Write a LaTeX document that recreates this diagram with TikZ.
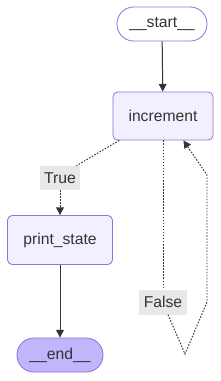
\documentclass[tikz,border=0pt]{standalone}
\usepackage{fontspec}
\setmainfont{Liberation Sans}
\usetikzlibrary{arrows.meta}
\usetikzlibrary{positioning}
\definecolor{nodefill}{HTML}{F2F0FF}
\definecolor{nodeline}{HTML}{9370DB}
\definecolor{endfill}{HTML}{BFB6FC}
\definecolor{edgecol}{HTML}{333333}
\definecolor{lblfill}{HTML}{E8E8E8}

\begin{document}
\begin{tikzpicture}[
  x=0.03cm,y=-0.03cm,
  every node/.style={font=\fontsize{13.4}{16}\selectfont,text=edgecol,inner sep=0pt},
  box/.style={draw=nodeline,fill=nodefill,line width=0.7pt,rounded corners=4pt},
  pill/.style={draw=nodeline,line width=0.7pt,rounded corners=0.5cm,minimum height=1.02cm},
  lbl/.style={fill=lblfill,minimum height=0.72cm},
  flow/.style={draw=edgecol,line width=0.85pt,-{Triangle[length=6.5pt,width=6.5pt]}},
  cond/.style={draw=edgecol,line width=0.85pt,dash pattern=on 1.3pt off 1.3pt}]
\useasboundingbox (0,0) rectangle (221,381);
\node[pill,fill=white,minimum width=2.7cm] (start) at (162,24) {\_\_start\_\_};
\node[box,minimum width=3cm,minimum height=1.44cm] (increment) at (163,116) {increment};
\node[lbl,minimum width=1.17cm] (truelbl) at (60,178) {True};
\node[box,minimum width=3.15cm,minimum height=1.47cm] (print) at (60,240) {print\_state};
\node[pill,fill=endfill,minimum width=2.58cm] (end) at (60,355) {\_\_end\_\_};
\node[lbl,minimum width=1.41cm,minimum height=0.75cm] (falselbl) at (163,302) {False};
% loop corners
\coordinate (loopbot) at (185,354);
\coordinate (loopright) at (207,302);
\coordinate (looptop) at (207,175);
\draw[flow] (start) -- (increment);
\draw[cond] ([xshift=0.2cm]increment.south west) -- ([xshift=-0.1cm]truelbl.north east);
\draw[cond,-{Triangle[length=6.5pt,width=6.5pt]}] (truelbl) -- (print);
\draw[flow] (print) -- (end);
\draw[cond] (increment.south -| falselbl) -- (falselbl.north);
\draw[cond,-{Triangle[length=6.5pt,width=6.5pt]}] ([xshift=0.15cm]falselbl.south) -- (loopbot)
  -- (loopright) -- (looptop) -- ([xshift=-0.9cm]increment.south east);
\end{tikzpicture}
\end{document}
